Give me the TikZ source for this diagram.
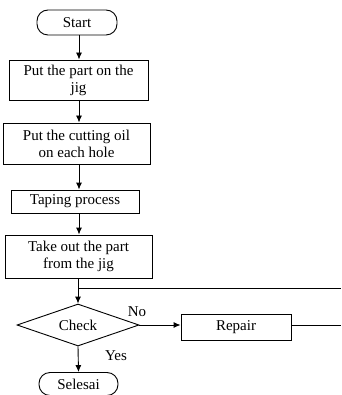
\documentclass[tikz,border=0pt]{standalone}
\usepackage{fontspec}
\setmainfont{Liberation Serif}
\usetikzlibrary{shapes.geometric,arrows.meta}

\begin{document}
\begin{tikzpicture}[x=1pt,y=-1pt]
    \tikzset{
        every node/.style={font=\fontsize{15}{17}\selectfont, align=center, inner sep=1pt},
        proc/.style={draw, line width=0.9pt},
        term/.style={draw, line width=0.9pt, rounded corners=11pt},
        decide/.style={draw, line width=0.9pt, diamond, aspect=3, inner sep=0pt},
        flow/.style={line width=0.9pt, -{Latex[length=7pt,width=6pt]}}
    }
    \useasboundingbox (0,0) rectangle (341,395);
    % terminals and steps
    \node[term, minimum width=80pt, minimum height=25pt] (start) at (77,22.5) {Start};
    \node[proc, minimum width=139pt, minimum height=40pt] (jig) at (78.5,80) {Put the part on the\\jig};
    \node[proc, minimum width=147pt, minimum height=41pt] (oil) at (76.5,143.5) {Put the cutting oil\\on each hole};
    \node[proc, minimum width=128pt, minimum height=23pt] (tap) at (75,201.5) {Taping process};
    \node[proc, minimum width=147pt, minimum height=43pt] (out) at (78.5,256.5) {Take out the part\\from the jig};
    \node[decide, minimum width=122pt, minimum height=42pt] (check) at (78,325) {Check};
    \node[proc, minimum width=110pt, minimum height=26pt] (repair) at (236,327) {Repair};
    \node[term, minimum width=79pt, minimum height=23pt] (end) at (78.5,384) {Selesai};
    \node (no) at (137,312) {No};
    \node (yes) at (116,356) {Yes};
    \coordinate (loop) at (341,288);
    \coordinate (back) at (341,327);
    % connectors
    \draw[flow] (79,35) coordinate (s1) -- (s1 |- jig.north);
    \draw[flow] (79,100) coordinate (s2) -- (s2 |- oil.north);
    \draw[flow] (79,164) coordinate (s3) -- (s3 |- tap.north);
    \draw[flow] (79,213) coordinate (s4) -- (s4 |- out.north);
    \draw[flow] (check.north |- out.south) -- (check.north);
    \draw[line width=0.9pt] (check.north |- loop) -- (loop);
    \draw[flow] (check.east) -- (repair.west |- check.east);
    \draw[line width=0.9pt] (repair.east |- check.east) -- (back |- check.east);
    \draw[flow] (check.south) -- (end.north);
\end{tikzpicture}
\end{document}
